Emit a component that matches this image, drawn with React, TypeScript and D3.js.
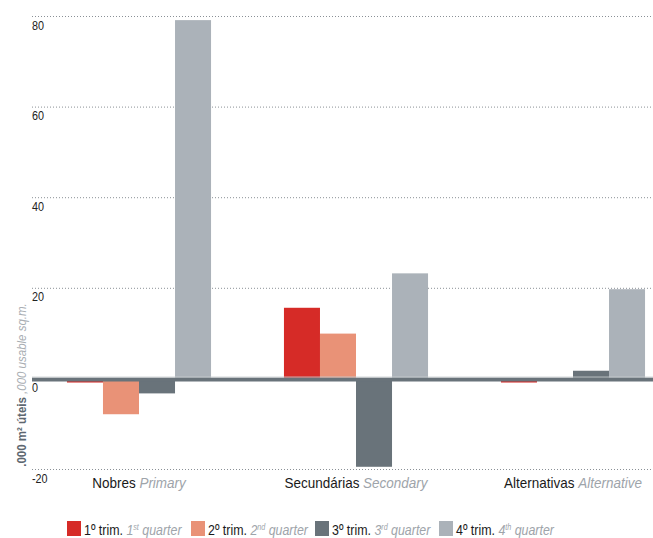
import React from "react";
import * as d3 from "d3";

const categories = ["Nobres", "Secundárias", "Alternativas"];
const categoriesEn = ["Primary", "Secondary", "Alternative"];
const quarters = ["q1", "q2", "q3", "q4"];
const quarterLabels = ["1º trim.", "2º trim.", "3º trim.", "4º trim."];
const quarterEnNum = ["1", "2", "3", "4"];
const quarterEnSup = ["st", "nd", "rd", "th"];
const q1 = [-0.8, 15.7, -0.8];
const q2 = [-7.8, 10.0, 0];
const q3 = [-3.2, -19.4, 1.8];
const q4 = [79.2, 23.3, 19.8];
const yTicks = [-20, 0, 20, 40, 60, 80];

const series = [q1, q2, q3, q4];
const colors = ["#d62b27", "#e99277", "#69737a", "#abb2b9"];
const W = 653;
const H = 538;
const FONT = "'Liberation Sans', Arial, sans-serif";
const GREY_TEXT = "#9ea4aa";

// Condensed text: the sans face squeezed horizontally around its anchor point.
function Narrow({ x, y, k, children }: { x: number; y: number; k: number; children: React.ReactNode }) {
  return <g transform={`translate(${x},${y}) scale(${k},1)`}>{children}</g>;
}

export default function App() {
  const y = d3.scaleLinear().domain([-20, 80]).range([469.5, 16.5]);
  const x0 = d3.scaleBand<string>().domain(categories).range([30.5, 681.5]).paddingInner(0.336).paddingOuter(0.168);
  const x1 = d3.scaleBand<string>().domain(quarters).range([0, x0.bandwidth()]);
  const gridLeft = 32;
  const gridRight = W;

  return (
    <svg width={W} height={H} style={{ position: "absolute", left: 0, top: 0, fontFamily: FONT }}>
      <rect width={W} height={H} fill="#fff" />
      {yTicks.filter((t) => t !== 0).map((t) => (
        <line key={t} x1={gridLeft} x2={gridRight} y1={y(t)} y2={y(t)} stroke="#8a9096" strokeWidth={1} strokeDasharray="1 2" />
      ))}
      {yTicks.map((t) => (
        <Narrow key={"l" + t} x={gridLeft} y={y(t) + 13} k={0.8}>
          <text fontSize={13.5} fill="#222">{t}</text>
        </Narrow>
      ))}
      {categories.map((c, ci) => (
        <g key={c} transform={`translate(${x0(c)},0)`}>
          {series.map((s, si) => {
            const v = s[ci];
            if (v === 0) return null;
            return (
              <rect key={si} x={x1(quarters[si])} width={x1.bandwidth()} y={Math.min(y(v), y(0))} height={Math.abs(y(v) - y(0))} fill={colors[si]} />
            );
          })}
        </g>
      ))}
      <line x1={gridLeft} x2={gridRight} y1={y(0) - 1.8} y2={y(0) - 1.8} stroke="#c9cdd0" strokeWidth={1} />
      <line x1={gridLeft} x2={gridRight} y1={y(0) + 0.7} y2={y(0) + 0.7} stroke="#69737a" strokeWidth={3.6} />
      {categories.map((c, ci) => (
        <Narrow key={"c" + c} x={(x0(c) as number) + x0.bandwidth() / 2} y={488} k={0.9}>
          <text textAnchor="middle" fontSize={15} fill="#1a1a1a">
            {c} <tspan fill={GREY_TEXT} fontStyle="italic">{categoriesEn[ci]}</tspan>
          </text>
        </Narrow>
      ))}
      <g transform="translate(26,385) rotate(-90)">
        <Narrow x={0} y={0} k={0.92}>
          <text textAnchor="middle" fontSize={12.5}>
            <tspan fill="#5d6770" fontWeight="bold">.000 m² úteis </tspan>
            <tspan fill="#a9aeb3" fontStyle="italic">,000 usable sq.m.</tspan>
          </text>
        </Narrow>
      </g>
      {quarters.map((q, i) => {
        const lx = 67 + i * 124;
        return (
          <g key={"lg" + q} transform={`translate(${lx},521)`}>
            <rect width={14} height={15} fill={colors[i]} />
            <Narrow x={17} y={14} k={0.8}>
              <text fontSize={15.5} fill="#1a1a1a">
                {quarterLabels[i]}{" "}
                <tspan fill={GREY_TEXT} fontStyle="italic">{quarterEnNum[i]}</tspan>
                <tspan fill={GREY_TEXT} fontStyle="italic" fontSize={9} dy={-5}>{quarterEnSup[i]}</tspan>
                <tspan fill={GREY_TEXT} fontStyle="italic" dy={5}> quarter</tspan>
              </text>
            </Narrow>
          </g>
        );
      })}
    </svg>
  );
}
